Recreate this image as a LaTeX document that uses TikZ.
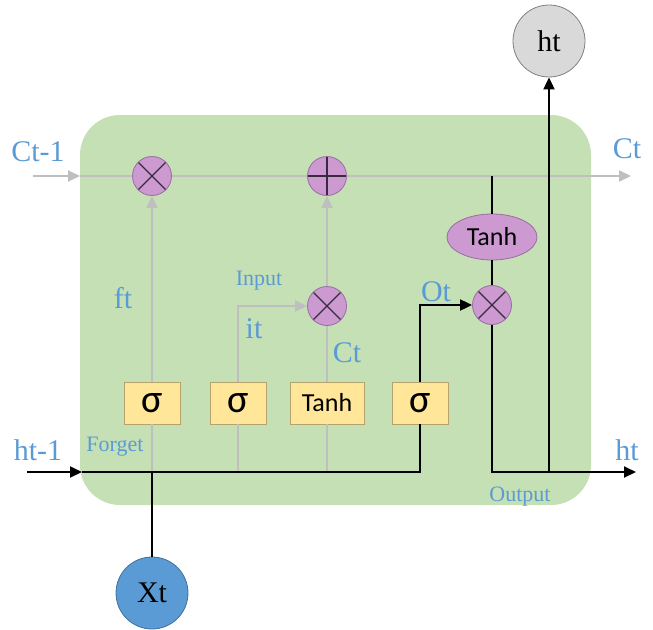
\documentclass[tikz,border=0pt]{standalone}
\usepackage{fontspec}
\setmainfont{Liberation Serif}
\newfontfamily\boxfont{Carlito}
\usepackage{xcolor}
\usepackage{tikz}
\usetikzlibrary{arrows.meta,shapes.geometric}

\definecolor{cellgreen}{HTML}{C5E0B4}
\definecolor{opfill}{HTML}{CC99D0}
\definecolor{opline}{HTML}{9A6CA3}
\definecolor{opmark}{HTML}{3A2A3E}
\definecolor{gatefill}{HTML}{FFE699}
\definecolor{gateline}{HTML}{B5A36E}
\definecolor{lblblue}{HTML}{5B9BD5}
\definecolor{xtfill}{HTML}{5B9BD5}
\definecolor{xtline}{HTML}{41719C}
\definecolor{htfill}{HTML}{D9D9D9}
\definecolor{flowgray}{HTML}{BFBFBF}

\begin{document}
\begin{tikzpicture}[x=1pt, y=-1pt,
  cell/.style={fill=cellgreen, rounded corners=40pt},
  gate/.style={rectangle, draw=gateline, fill=gatefill, line width=0.8pt,
               minimum width=56pt, minimum height=42pt, inner sep=0pt,
               font=\boxfont\fontsize{40}{40}\selectfont},
  tgate/.style={gate, minimum width=74pt, font=\boxfont\fontsize{26}{26}\selectfont},
  op/.style={circle, draw=opline, fill=opfill, line width=0.8pt,
             minimum size=39pt, inner sep=0pt},
  mulop/.style={op, path picture={
      \draw[opmark, line width=1.2pt]
        (path picture bounding box.north west) -- (path picture bounding box.south east)
        (path picture bounding box.north east) -- (path picture bounding box.south west);}},
  addop/.style={op, path picture={
      \draw[opmark, line width=1.2pt]
        (path picture bounding box.north) -- (path picture bounding box.south)
        (path picture bounding box.west) -- (path picture bounding box.east);}},
  act/.style={ellipse, draw=opline, fill=opfill, line width=0.8pt,
              minimum width=90pt, minimum height=46pt, inner sep=0pt,
              font=\boxfont\fontsize{26}{26}\selectfont},
  io/.style={circle, minimum size=72pt, inner sep=0pt, line width=0.8pt,
             font=\fontsize{30}{30}\selectfont},
  lbl/.style={text=lblblue, inner sep=0pt, anchor=base,
              font=\fontsize{30}{30}\selectfont},
  slbl/.style={lbl, font=\fontsize{22}{22}\selectfont},
  gflow/.style={draw=flowgray, line width=1.8pt},
  flow/.style={draw=black, line width=1.9pt},
  tip/.style={-{Triangle[length=12pt,width=11pt]}}
]
  \useasboundingbox (0,0) rectangle (653,629);

  % cell body
  \path[cell] (80,115) rectangle (591,505);

  % free ends and junctions
  \coordinate (cin) at (33,176);
  \coordinate (cbox) at (80,176);
  \coordinate (ctap) at (492,176);
  \coordinate (cout) at (631,176);
  \coordinate (hin) at (27,472);
  \coordinate (hbox) at (82,472);
  \coordinate (hout) at (636,472);
  \coordinate (j1) at (152,472);
  \coordinate (j2) at (238,472);
  \coordinate (j3) at (327,472);
  \coordinate (jout) at (549,472);

  % pointwise ops
  \node[mulop] (mul1) at (152,176) {};
  \node[addop] (plus) at (327,176) {};
  \node[mulop] (mul2) at (327,306) {};
  \node[mulop] (mul3) at (492,305) {};
  \node[act] (tanh2) at (492,237) {Tanh};

  % gates
  \node[gate] (sg1) at (152,403) {σ};
  \node[gate] (sg2) at (238,403) {σ};
  \node[tgate] (th1) at (327,403) {Tanh};
  \node[gate] (sg3) at (420,403) {σ};

  % in / out
  \node[io, draw=gray, fill=htfill] (htop) at (549,41) {ht};
  \node[io, draw=xtline, fill=xtfill] (xt) at (152,593) {Xt};

  % cell state
  \draw[gflow, tip] (cin) -- (cbox);
  \draw[gflow] (cbox) -- (mul1);
  \draw[gflow] (mul1) -- (plus);
  \draw[gflow, tip] (plus) -- (cout);

  % gray gate paths
  \draw[gflow] (j1) -- (sg1);
  \draw[gflow] (j2) -- (sg2);
  \draw[gflow] (j3) -- (th1);
  \draw[gflow, tip] (sg1) -- (mul1);
  \draw[gflow, tip] (sg2) |- (mul2);
  \draw[gflow] (th1) -- (mul2);
  \draw[gflow, tip] (mul2) -- (plus);

  % hidden state
  \draw[flow, tip] (hin) -- (hbox);
  \draw[flow] (hbox) -| (sg3);
  \draw[flow] (xt) -- (j1);
  \draw[flow, tip] (sg3) |- (mul3);
  \draw[flow] (ctap) -- (tanh2);
  \draw[flow] (tanh2) -- (mul3);
  \draw[flow, tip] (mul3) |- (hout);
  \draw[flow, tip] (jout) -- (htop);

  % labels
  \node[lbl] (lcin) at (38,161) {Ct-1};
  \node[lbl] (lcout) at (627,158) {Ct};
  \node[lbl] (lhin) at (38,460) {ht-1};
  \node[lbl] (lhout) at (627,460) {ht};
  \node[lbl] (lft) at (123,308) {ft};
  \node[lbl] (lit) at (254,338) {it};
  \node[lbl] (lct) at (347,362) {Ct};
  \node[lbl] (lot) at (436,301) {Ot};
  \node[slbl] (lforget) at (115,451) {Forget};
  \node[slbl] (linput) at (259,285) {Input};
  \node[slbl] (loutput) at (520,501) {Output};
\end{tikzpicture}
\end{document}
